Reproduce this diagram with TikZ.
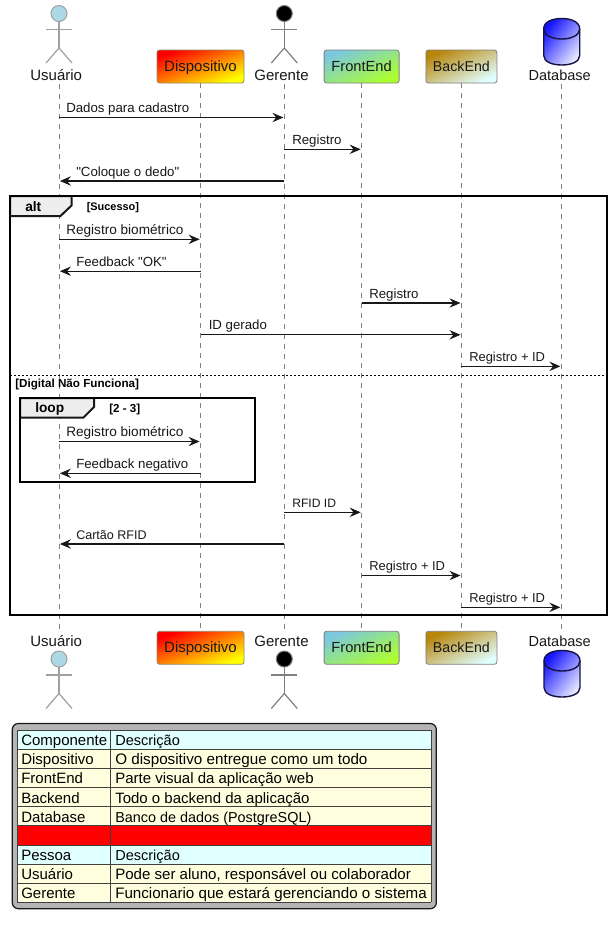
\documentclass[tikz,border=0pt]{standalone}
\usepackage{fontspec}
\setmainfont{Liberation Sans}
\newfontfamily\rawfont{Liberation Sans}
\usetikzlibrary{arrows.meta}
\definecolor{ink}{HTML}{181818}
\definecolor{life}{HTML}{808080}
\definecolor{stick}{HTML}{A0A0A0}
\definecolor{skyb}{HTML}{7AC8DE}
\definecolor{grnyel}{HTML}{ADFF2F}
\definecolor{gold}{HTML}{B8860B}
\definecolor{lcyan}{HTML}{E0FFFF}
\definecolor{lyellow}{HTML}{FFFFE0}
\definecolor{headblue}{HTML}{ADD8E6}
\definecolor{dbend}{HTML}{E4E4FF}
\definecolor{panel}{HTML}{B4B4B4}
\newcommand{\sz}[2]{{\fontsize{#1}{13}\selectfont #2}}
\tikzset{
  x=0.75pt,y=-0.75pt,
  msgline/.style={draw=ink,line width=0.8pt,shorten >=0.7pt,-{Stealth[length=8.2pt,width=7pt,inset=2.8pt]}},
  msgtext/.style={anchor=base west,inner sep=0pt,text=ink,font=\fontsize{9.94}{12}\selectfont},
  lifeline/.style={draw=life,line width=0.7pt,dash pattern=on 3.75pt off 3.75pt},
  actortext/.style={anchor=base,inner sep=0pt,text=ink,font=\fontsize{11.25}{13}\selectfont},
  partbox/.style={rounded corners=1.9pt,draw=#1,line width=0.6pt,inner sep=0pt,minimum height=24.75pt,text height=8.25pt,text depth=1pt,text=ink,font=\fontsize{11.25}{13}\selectfont},
  partbox/.default=gray,
  stickman/.style={draw=stick,line width=0.9pt},
  framebox/.style={draw=black,line width=1.5pt},
  tabfill/.style={fill=black!7,draw=ink,line width=1.5pt},
  frametitle/.style={anchor=base west,inner sep=0pt,text=black,font=\bfseries\fontsize{10.3}{12}\selectfont},
  guardtext/.style={anchor=base west,inner sep=0pt,text=black,font=\bfseries\fontsize{8.2}{9}\selectfont},
  cellline/.style={draw=black!75,line width=0.75pt},
  celltext/.style={anchor=base west,inner sep=0pt,text=black,font=\fontsize{11.25}{13}\selectfont},
}
% actor figure: centre x, y of the head centre, stroke, head fill
\newcommand{\stickfig}[4]{%
  \draw[stickman,draw=#3] (#1,#2+8) -- (#1,#2+34.5);
  \draw[stickman,draw=#3] (#1-13,#2+16) -- (#1+13,#2+16);
  \draw[stickman,draw=#3] (#1-13,#2+49.5) -- (#1,#2+34.5) -- (#1+13,#2+49.5);
  \fill[#4,draw=#3,line width=0.75pt] (#1,#2) circle[radius=8];
}
% database cylinder: centre x, top y
\newcommand{\dbfig}[2]{%
  \path[top color=blue!92!white,bottom color=dbend,shading angle=52]
    (#1-18,#2+10.5) .. controls (#1-18,#2+3) and (#1-9,#2) .. (#1,#2)
    .. controls (#1+9,#2) and (#1+18,#2+3) .. (#1+18,#2+10.5) -- (#1+18,#2+37)
    .. controls (#1+18,#2+43.5) and (#1+9,#2+46.5) .. (#1,#2+46.5)
    .. controls (#1-9,#2+46.5) and (#1-18,#2+43.5) .. (#1-18,#2+37) -- cycle;
  \draw[draw=ink!80!blue,line width=1.05pt,line join=round]
    (#1-18,#2+10.5) .. controls (#1-18,#2+3) and (#1-9,#2) .. (#1,#2)
    .. controls (#1+9,#2) and (#1+18,#2+3) .. (#1+18,#2+10.5) -- (#1+18,#2+37)
    .. controls (#1+18,#2+43.5) and (#1+9,#2+46.5) .. (#1,#2+46.5)
    .. controls (#1-9,#2+46.5) and (#1-18,#2+43.5) .. (#1-18,#2+37) -- cycle;
  \draw[draw=ink!80!blue,line width=1.05pt]
    (#1-18,#2+10.5) .. controls (#1-18,#2+17) and (#1-9,#2+20.5) .. (#1,#2+20.5)
    .. controls (#1+9,#2+20.5) and (#1+18,#2+17) .. (#1+18,#2+10.5);
}
% message: from, to, y, label x, label
\newcommand{\msgto}[5]{%
  \draw[msgline] (#1 |- 0,#3) -- (#2 |- 0,#3);
  \node[msgtext] (m#3) at (#4,#3-5) {#5};
}
\begin{document}
\begin{tikzpicture}
\useasboundingbox (0,0) rectangle (613,929);
\fill[white] (0,0) rectangle (613,929);

% ends of the lifelines
\coordinate (usrA) at (59,84);      \coordinate (usrZ) at (59,630);
\coordinate (gerA) at (284.3,84);   \coordinate (gerZ) at (284.3,630);
\coordinate (dbA) at (561.3,84);    \coordinate (dbZ) at (561.3,630);

% top participants
\stickfig{59}{13.5}{stick}{headblue}
\stickfig{284.3}{13.5}{life}{black}
\node[actortext] (usrT) at (56.2,80) {Usuário};
\node[actortext] (gerT) at (281.5,80) {Gerente};
\node[actortext,font=\fontsize{10.9}{13}\selectfont] (dbT) at (559.7,80) {Database};
\dbfig{561.7}{18.5}
\node[partbox=gray!80!olive,minimum width=65.25pt,top color=red,bottom color=yellow,shading angle=21] (dispT) at (200.5,66.5) {Dispositivo};
\node[partbox=gray,minimum width=56.25pt,top color=skyb,bottom color=grnyel,shading angle=24,font=\fontsize{11}{13}\selectfont] (frontT) at (361.6,66.5) {FrontEnd};
\node[partbox=gray,minimum width=53.25pt,top color=gold,bottom color=lcyan,shading angle=25,font=\fontsize{10.65}{13}\selectfont] (backT) at (461.4,66.5) {BackEnd};

% bottom participants
\node[actortext] (usrB) at (56.2,646) {Usuário};
\node[actortext] (gerB) at (281.5,646) {Gerente};
\node[actortext,font=\fontsize{10.9}{13}\selectfont] (dbB) at (559.7,646) {Database};
\stickfig{59}{659}{stick}{headblue}
\stickfig{284.3}{659}{life}{black}
\dbfig{562}{650.5}
\node[partbox=gray!80!olive,minimum width=65.25pt,top color=red,bottom color=yellow,shading angle=21] (dispB) at (200.5,647.8) {Dispositivo};
\node[partbox=gray,minimum width=56.25pt,top color=skyb,bottom color=grnyel,shading angle=24,font=\fontsize{11}{13}\selectfont] (frontB) at (361.6,647.8) {FrontEnd};
\node[partbox=gray,minimum width=53.25pt,top color=gold,bottom color=lcyan,shading angle=25,font=\fontsize{10.65}{13}\selectfont] (backB) at (461.4,647.8) {BackEnd};

% lifelines
\draw[lifeline] (usrA) -- (usrZ);
\draw[lifeline] (gerA) -- (gerZ);
\draw[lifeline] (dbA) -- (dbZ);
\draw[lifeline] (dispT.south) -- (dispB.north);
\draw[lifeline] (frontT.south) -- (frontB.north);
\draw[lifeline] (backT.south) -- (backB.north);

% messages
\msgto{usrA}{gerA}{117.5}{66}{Dados para cadastro}
\msgto{gerA}{frontT}{149.3}{292}{Registro}
\msgto{gerA}{usrA}{181}{76}{\rawfont "Coloque o dedo"}
\msgto{usrA}{dispT}{239.3}{66}{\sz{10.2}{Registro biométrico}}
\msgto{dispT}{usrA}{271.2}{76}{\rawfont Feedback "OK"}
\msgto{frontT}{backT}{303}{369}{Registro}
\msgto{dispT}{backT}{334.8}{208.5}{ID gerado}
\msgto{backT}{dbA}{366.3}{469}{\sz{9.7}{Registro + ID}}
\msgto{usrA}{dispT}{441.5}{66}{\sz{10.2}{Registro biométrico}}
\msgto{dispT}{usrA}{473.3}{76}{Feedback negativo}
\msgto{gerA}{frontT}{512.3}{292}{\sz{9.1}{RFID ID}}
\msgto{gerA}{usrA}{544}{76}{\sz{9.4}{Cartão RFID}}
\msgto{frontT}{backT}{575.5}{369}{\sz{9.7}{Registro + ID}}
\msgto{backT}{dbA}{607.3}{469}{\sz{9.7}{Registro + ID}}

% alt frame
\draw[tabfill,line join=miter] (10,196) -- (71.5,196) -- (71.5,205.5) -- (60.5,216) -- (10,216) -- cycle;
\draw[framebox] (10,196) rectangle (607,615);
\node[frametitle] (altT) at (25,211) {alt};
\node[guardtext] (altG) at (86.5,210) {\sz{8.2}{[Sucesso]}};
\draw[draw=black,line width=0.75pt,dash pattern=on 1.5pt off 1.5pt] (10,375.5) -- (607,375.5);
\node[guardtext] (altH) at (15,387.3) {\sz{8.75}{[Digital Não Funciona]}};

% loop frame
\draw[tabfill,line join=miter] (20,398) -- (94,398) -- (94,407) -- (83.5,417.5) -- (20,417.5) -- cycle;
\draw[framebox] (20,398) rectangle (254.5,482);
\node[frametitle] (loopT) at (35,412.7) {loop};
\node[guardtext] (loopG) at (109,412) {\sz{8.7}{[2 - 3]}};

% legend
\draw[draw=ink,line width=0.9pt,fill=panel,rounded corners=4.5pt] (12.3,723.5) rectangle (436.3,908.7);
\def\tabL{17}\def\tabM{110.5}\def\tabR{431.3}
\fill[lcyan] (\tabL,730) rectangle (\tabR,749);
\fill[lyellow] (\tabL,749) rectangle (\tabR,825.7);
\fill[red] (\tabL,825.7) rectangle (\tabR,845);
\fill[lcyan] (\tabL,845) rectangle (\tabR,864);
\fill[lyellow] (\tabL,864) rectangle (\tabR,902);
\foreach \yy in {730,749,768,787.3,806.5,825.7,845,864,883,902}
  \draw[cellline] (\tabL,\yy) -- (\tabR,\yy);
\draw[cellline] (\tabL,730) -- (\tabL,902);
\draw[cellline] (\tabM,730) -- (\tabM,902);
\draw[cellline] (\tabR,730) -- (\tabR,902);
\foreach \nn/\yy/\aa/\bb in {
  a/745.2/Componente/\sz{10.9}{Descrição},
  b/764.3/Dispositivo/\sz{11.42}{O dispositivo entregue como um todo},
  c/783.8/FrontEnd/Parte visual da aplicação web,
  d/803/Backend/Todo o backend da aplicação,
  e/822.2/Database/\sz{10.8}{Banco de dados (PostgreSQL)},
  f/860/Pessoa/\sz{10.9}{Descrição},
  g/879.2/Usuário/\sz{11.3}{Pode ser aluno{,} responsável ou colaborador},
  h/898.3/Gerente/\sz{11.36}{Funcionario que estará gerenciando o sistema}}
{
  \node[celltext] (l\nn) at (21,\yy) {\aa};
  \node[celltext] (r\nn) at (115,\yy) {\bb};
}
\end{tikzpicture}
\end{document}
